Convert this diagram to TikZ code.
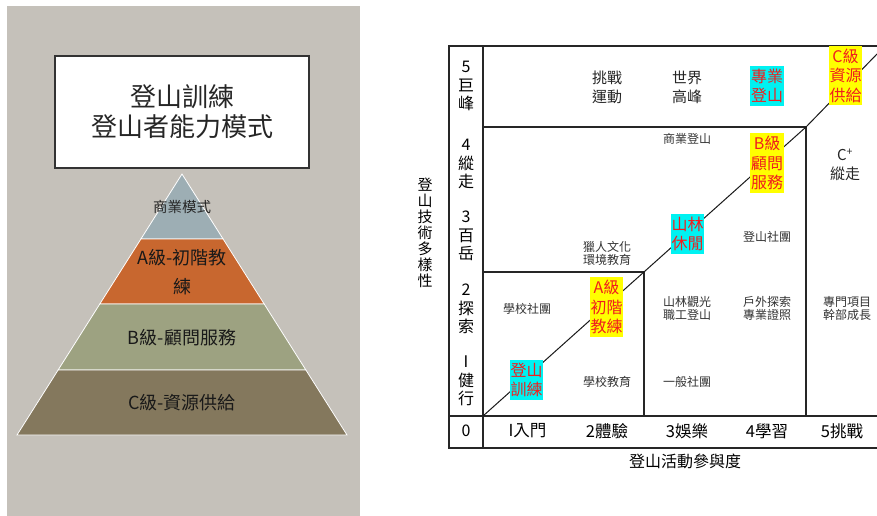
\documentclass[tikz,border=0pt]{standalone}
\usepackage{fontspec}
\setmainfont{Noto Sans CJK TC}
\definecolor{bgL}{HTML}{C5C1BA}
\definecolor{pyrTop}{HTML}{9DAEB4}
\definecolor{pyrA}{HTML}{C8672F}
\definecolor{pyrB}{HTML}{9DA281}
\definecolor{pyrC}{HTML}{84785D}
\definecolor{cyanB}{HTML}{00F2F2}
\definecolor{yelB}{HTML}{FFFF00}
\definecolor{redT}{HTML}{F01E1E}
\begin{document}
\begin{tikzpicture}[x=1pt,y=-1pt,
  every node/.style={inner sep=0pt, text=black},
  small/.style={font=\fontsize{12}{13}\selectfont, align=center, text=black!80},
  mid/.style={font=\fontsize{15}{19}\selectfont, align=center, text=black!85},
  ylab/.style={font=\fontsize{16}{18.5}\selectfont, align=center},
  xlab/.style={font=\fontsize{16.5}{19}\selectfont},
  tag/.style={font=\fontsize{16}{19.5}\selectfont, align=center, text=redT, inner xsep=0.6pt, inner ysep=3pt},
  cyantag/.style={tag, fill=cyanB},
  yeltag/.style={tag, fill=yelB},
  gridline/.style={draw=black!85, line width=1.3pt},
  layer/.style={draw=white, line width=0.8pt},
  pyrtext/.style={font=\fontsize{18}{29}\selectfont, align=center, text=black!90}
]
\useasboundingbox (0,0) rectangle (877,516);
\fill[white] (0,0) rectangle (877,516);
% left panel
\fill[bgL] (7,6) rectangle (360,516);
\node[draw=black!80, line width=2pt, fill=white, minimum width=254pt, minimum height=112pt,
      font=\fontsize{26}{30}\selectfont, align=center, text=black!85] (title) at (182,112) {登山訓練\\登山者能力模式};
% pyramid
\path[layer, fill=pyrTop] (182,174) -- (223.1,239) -- (140.9,239) -- cycle;
\path[layer, fill=pyrA] (140.9,239) -- (223.1,239) -- (264.2,304) -- (99.8,304) -- cycle;
\path[layer, fill=pyrB] (99.8,304) -- (264.2,304) -- (305.9,370) -- (58.1,370) -- cycle;
\path[layer, fill=pyrC] (58.1,370) -- (305.9,370) -- (347,435) -- (17,435) -- cycle;
\node[font=\fontsize{14.5}{17}\selectfont, text=black!85] (tm) at (182,207) {商業模式};
\node[pyrtext] (ta) at (182,272.5) {A級-初階教\\練};
\node[pyrtext] (tb) at (182,338) {B級-顧問服務};
\node[pyrtext] (tc) at (182,403) {C級-資源供給};
% chart grid
\draw[gridline] (877,46) -- (449,46) -- (449,448) -- (877,448);
\draw[gridline] (483,46) -- (483,448);
\draw[gridline] (449,416) -- (877,416);
\draw[gridline] (483,127) -- (806,127) -- (806,416);
\draw[gridline] (483,272) -- (644,272) -- (644,416);
\coordinate (d0) at (483,416);
\coordinate (d1) at (806,127);
\coordinate (d2) at (877,54);
\draw[line width=1pt, black!90] (d0) -- (d1) -- (d2);
% y axis labels
\node[ylab] (y5) at (466,86) {5\\巨\\峰};
\node[ylab] (y4) at (466,164) {4\\縱\\走};
\node[ylab] (y3) at (466,236) {3\\百\\岳};
\node[ylab] (y2) at (466,309) {2\\探\\索};
\node[ylab] (y1) at (466,381) {I\\健\\行};
\node[ylab] (y0) at (466,431) {0};
% x axis labels
\node[xlab] (x1) at (527.5,431) {I入門};
\node[xlab] (x2) at (607,431) {2體驗};
\node[xlab] (x3) at (687,431) {3娛樂};
\node[xlab] (x4) at (767,431) {4學習};
\node[xlab] (x5) at (842,431) {5挑戰};
% axis titles
\node[font=\fontsize{15}{16}\selectfont, align=center] (ytitle) at (425,232.5) {登\\山\\技\\術\\多\\樣\\性};
\node[font=\fontsize{16}{19}\selectfont] (xtitle) at (685,461) {登山活動參與度};
% interior
\node[mid] (n1) at (607,87.5) {挑戰\\運動};
\node[mid] (n2) at (687,87.5) {世界\\高峰};
\node[cyantag] (n3) at (767,86) {專業\\登山};
\node[yeltag] (n4) at (845.5,75.5) {C級\\資源\\供給};
\node[small] (n5) at (687,139) {商業登山};
\node[yeltag] (n6) at (767,163) {B級\\顧問\\服務};
\node[mid] (n7) at (845,165) {C\textsuperscript{+}\\縱走};
\node[cyantag] (n8) at (687.5,234) {山林\\休閒};
\node[small] (n9) at (767,237) {登山社團};
\node[small] (n10) at (607,253.5) {獵人文化\\環境教育};
\node[small] (n11) at (527,309) {學校社團};
\node[yeltag] (n12) at (606.5,307) {A級\\初階\\教練};
\node[cyantag] (n13) at (526.5,380) {登山\\訓練};
\node[small] (n14) at (607,382) {學校教育};
\node[small] (n15) at (687,308.5) {山林觀光\\職工登山};
\node[small] (n16) at (767,308.5) {戶外探索\\專業證照};
\node[small] (n17) at (847,308.5) {專門項目\\幹部成長};
\node[small] (n18) at (687,382) {一般社團};
\end{tikzpicture}
\end{document}
